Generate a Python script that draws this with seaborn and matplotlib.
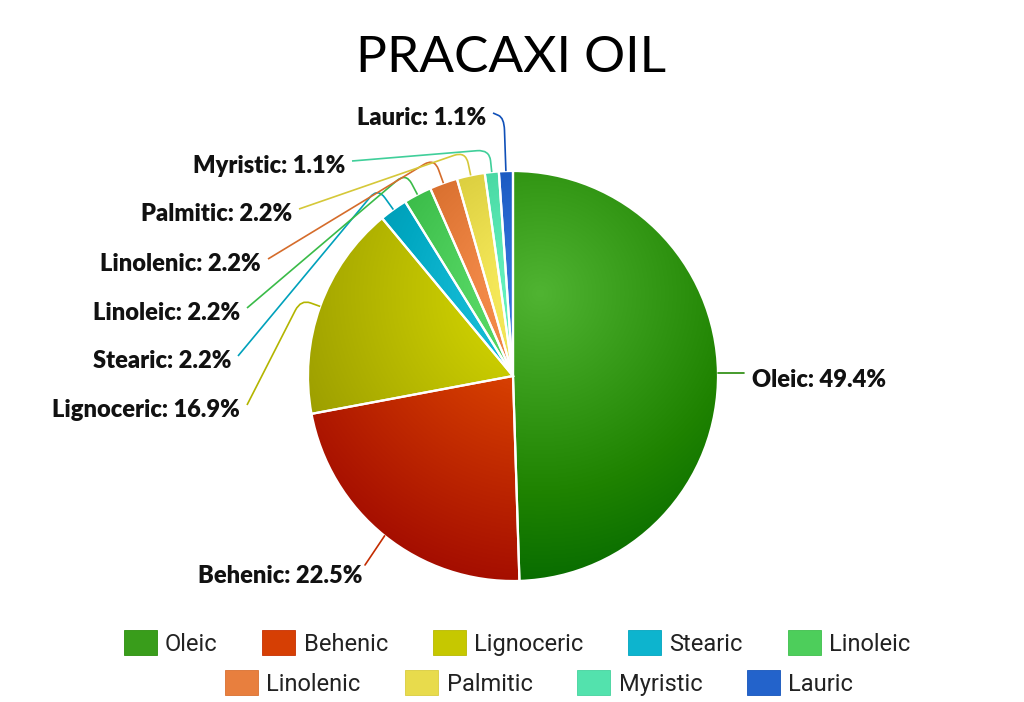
import numpy as np
import matplotlib
matplotlib.use("Agg")
import matplotlib.pyplot as plt
from matplotlib.patches import Wedge, Patch
from matplotlib.path import Path
from matplotlib.patches import PathPatch
import matplotlib.colors as mcolors
import seaborn as sns

# ---------------- data ----------------
acids = ["Oleic", "Behenic", "Lignoceric", "Stearic", "Linoleic",
         "Linolenic", "Palmitic", "Myristic", "Lauric"]
shares = [49.4, 22.5, 16.9, 2.2, 2.2, 2.2, 2.2, 1.1, 1.1]
base_colors = ["#50B432", "#ED561B", "#DDDF00", "#24CBE5", "#64E572",
               "#FF9655", "#FFF263", "#6AF9C4", "#3A7AE2"]
title = "PRACAXI OIL"

# ---------------- style ----------------
sns.set_theme(style="white")
plt.rcParams["font.family"] = ["Lato", "DejaVu Sans"]

W, H = 1024, 702
CX, CY, R = 513, 376, 205  # pie centre / radius in pixels (layout)

fig = plt.figure(figsize=(W / 100, H / 100), dpi=100)
fig.patch.set_facecolor("white")
ax = fig.add_axes([0, 0, 1, 1])


def px(x, y):
    """pixel (from top-left) -> data units (pie radius = 1)"""
    return ((x - CX) / R, (CY - y) / R)


palette = sns.color_palette(base_colors)
wedges, _ = ax.pie(shares, colors=palette, startangle=90, counterclock=False,
                   radius=1.0, center=(0, 0),
                   wedgeprops=dict(linewidth=0, edgecolor="white"))
ax.set_aspect("auto")
x0, y0 = px(0, H)
x1, y1 = px(W, 0)
ax.set_xlim(x0, x1)
ax.set_ylim(y0, y1)
ax.axis("off")

# radial gradient (light centre -> darker rim), like the original renderer
gx, gy, gr = 0.13, 0.40, 1.50
n = 500
xs = np.linspace(-1.02, 1.02, n)
XX, YY = np.meshgrid(xs, xs)
T = np.clip(np.hypot(XX - gx, YY - gy) / gr, 0, 1)


def shade(c, t):
    rgb = np.array(mcolors.to_rgb(c))
    return np.clip(rgb - 0.3 * t, 0, 1)


for w, c in zip(wedges, palette):
    rgb = np.array(mcolors.to_rgb(c))
    img = np.clip(rgb[None, None, :] - 0.3 * T[:, :, None], 0, 1)
    im = ax.imshow(img, extent=(-1.02, 1.02, -1.02, 1.02), origin="lower",
                   interpolation="bilinear", zorder=2)
    im.set_clip_path(w)

for w in wedges:
    ax.add_patch(Wedge(w.center, w.r, w.theta1, w.theta2, facecolor="none",
                       edgecolor="white", linewidth=1.6, zorder=3))

ax.set_xlim(x0, x1)
ax.set_ylim(y0, y1)

# ---------------- data labels with connectors ----------------
# label layout: (text anchor x px, text centre y px, side, elbow radius)
label_layout = {
    "Oleic": (752, 380, "left", None),
    "Behenic": (362, 576, "right", None),
    "Lignoceric": (240, 410, "right", 1.10),
    "Stearic": (231, 361, "right", 1.13),
    "Linoleic": (240, 313, "right", 1.12),
    "Linolenic": (261, 264, "right", 1.13),
    "Palmitic": (292, 214, "right", 1.12),
    "Myristic": (345, 166, "right", 1.11),
    "Lauric": (486, 118, "right", 1.26),
}


def rounded_path(p0, corner, p1, rad=0.05):
    p0, corner, p1 = map(np.asarray, (p0, corner, p1))
    d0 = p0 - corner
    d1 = p1 - corner
    l0 = np.hypot(*d0)
    l1 = np.hypot(*d1)
    a = corner + d0 / l0 * min(rad, 0.5 * l0)
    b = corner + d1 / l1 * min(rad, 0.5 * l1)
    verts = [p0, a, corner, b, p1]
    codes = [Path.MOVETO, Path.LINETO, Path.CURVE3, Path.CURVE3, Path.LINETO]
    return Path(verts, codes)


label_font = dict(family=["Lato", "DejaVu Sans"], fontweight="heavy",
                  fontsize=17, color="#111111")

for name, val, w, c in zip(acids, shares, wedges, palette):
    tx, ty, side, elbow_r = label_layout[name]
    mid = np.deg2rad(0.5 * (w.theta1 + w.theta2))
    edge = np.array([np.cos(mid), np.sin(mid)])
    lc = shade(c, 0.55)
    txt = f"{name}: {val:.1f}%"
    X, Y = px(tx, ty)
    ax.text(X, Y, txt, ha="right" if side == "right" else "left",
            va="center", zorder=5, **label_font)
    if name == "Oleic":
        s = px(tx - 8, ty - 5)
        ax.plot([edge[0], s[0]], [edge[1], edge[1]], color=lc, lw=1.2, zorder=4)
    elif name == "Behenic":
        s = np.array(px(tx + 3, ty - 11))
        ax.plot([edge[0], s[0]], [edge[1], s[1]], color=lc, lw=1.2, zorder=4)
    else:
        start = np.array(px(tx + 7, ty - 5))
        corner = edge * elbow_r
        path = rounded_path(start, corner, edge, rad=0.06)
        ax.add_patch(PathPatch(path, facecolor="none", edgecolor=lc,
                               lw=1.2, zorder=4))

# ---------------- title ----------------
tx_, ty_ = px(511, 58)
ax.text(tx_, ty_, title, ha="center", va="center", fontsize=37,
        family=["Lato", "DejaVu Sans"], color="black", zorder=5)

# ---------------- legend (two centred rows) ----------------
handles = [Patch(facecolor=shade(c, 0.3), edgecolor=shade(c, 0.5), lw=0.6,
                 label=a) for a, c in zip(acids, palette)]
leg_font = {"family": ["Roboto", "DejaVu Sans"], "size": 17}
common = dict(frameon=False, prop=leg_font, handlelength=1.4,
              handleheight=1.2, handletextpad=0.35, columnspacing=1.9,
              borderaxespad=0, borderpad=0, labelcolor="#222222")
leg1 = fig.legend(handles=handles[:5], loc="center", ncol=5,
                  bbox_to_anchor=(517 / W, 1 - 643 / H), **common)
leg2 = fig.legend(handles=handles[5:], loc="center", ncol=4,
                  bbox_to_anchor=(539 / W, 1 - 683 / H), **common)

fig.savefig("out.png", dpi=100, facecolor="white")
